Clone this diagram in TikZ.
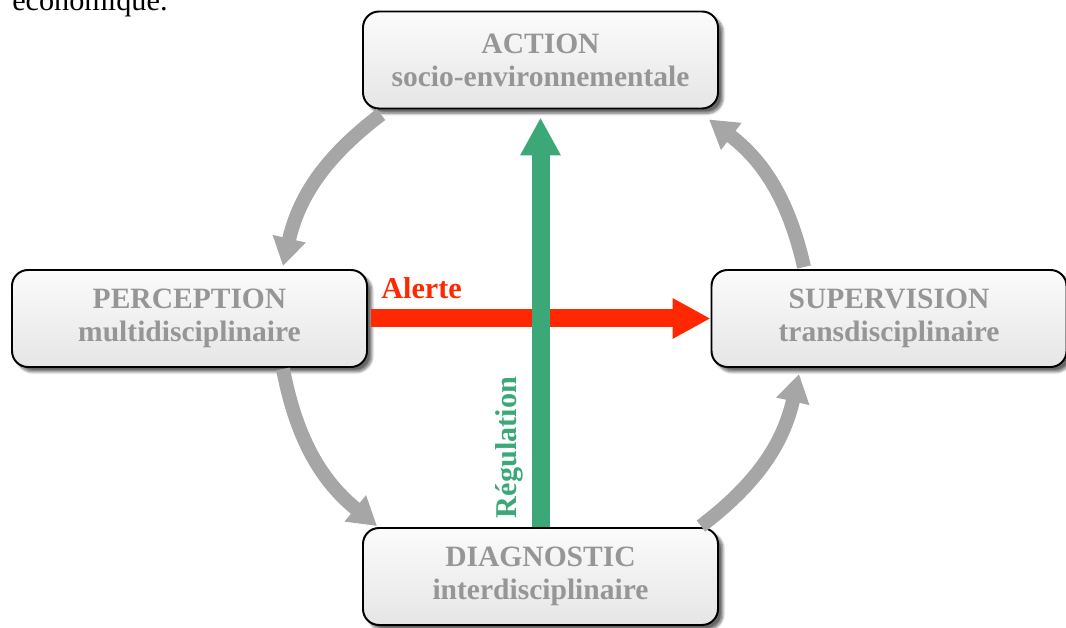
\documentclass[tikz,border=0pt]{standalone}
\usepackage{fontspec}
\setmainfont{Liberation Serif}
\usepackage{tikz}
\usetikzlibrary{arrows.meta,shadows.blur}
\definecolor{cyclegray}{RGB}{166,166,166}
\definecolor{labelgray}{RGB}{150,150,150}
\definecolor{regulgreen}{RGB}{60,168,120}
\definecolor{alertred}{RGB}{255,40,0}

\begin{document}
\begin{tikzpicture}[
    stage/.style={rectangle, draw=black, line width=1.4pt, rounded corners=0.4cm, top color=gray!3, bottom color=gray!20, minimum width=8.875cm, minimum height=2.425cm, inner sep=0pt, align=center, text=labelgray, font=\fontsize{21}{23.5}\selectfont\bfseries, blur shadow={shadow xshift=0.12cm, shadow yshift=-0.12cm, shadow blur steps=10, shadow opacity=60}},
    loopflow/.style={draw=cyclegray, line width=0.35cm, -{Triangle[length=0.7cm, width=0.8cm]}},
    alertflow/.style={draw=alertred, line width=0.45cm, -{Triangle[length=0.95cm, width=0.95cm]}},
    regulflow/.style={draw=regulgreen, line width=0.45cm, -{Triangle[length=0.95cm, width=0.95cm]}},
    flowlabel/.style={font=\fontsize{21.5}{23.5}\selectfont\bfseries, inner sep=0pt}
]
    \useasboundingbox (0,0) rectangle (26.65,15.675);

    % cut-off line of the text above
    \node[anchor=base west, inner sep=0pt, font=\fontsize{21.5}{23.5}\selectfont] (prev) at (0.3,15.42) {économique.};

    \node[stage] (action) at (13.5125,14.175) {ACTION\\socio-environnementale};
    \node[stage] (perception) at (4.7375,7.7125) {PERCEPTION\\multidisciplinaire};
    \node[stage] (supervision) at (22.225,7.7125) {SUPERVISION\\transdisciplinaire};
    \node[stage] (diagnostic) at (13.5125,1.2625) {DIAGNOSTIC\\interdisciplinaire};

    % outer loop
    \draw[loopflow] ([xshift=0.475cm, yshift=-0.125cm]action.south west) to[bend right=20] ([xshift=-2.125cm, yshift=0.075cm]perception.north east);
    \draw[loopflow] ([xshift=-2.125cm, yshift=-0.025cm]perception.south east) to[bend right=20] ([xshift=0.375cm, yshift=0.025cm]diagnostic.north west);
    \draw[loopflow] ([xshift=-0.45cm, yshift=0.025cm]diagnostic.north east) to[bend right=20] ([xshift=2.2125cm, yshift=-0.15cm]supervision.south west);
    \draw[loopflow] ([xshift=2.3375cm, yshift=0.05cm]supervision.north west) to[bend right=20] ([xshift=-0.25cm, yshift=-0.25cm]action.south east);

    % cross arrows
    \draw[alertflow] ([xshift=0.075cm]perception.east) -- (supervision.west);
    \draw[regulflow] (diagnostic.north) -- ([yshift=-0.2cm]action.south);

    \node[flowlabel, text=alertred, anchor=base west] (alerte) at (9.525,8.2) {Alerte};
    \node[flowlabel, text=regulgreen, rotate=90, anchor=base] (regulation) at (12.9,4.4875) {Régulation};
\end{tikzpicture}
\end{document}
